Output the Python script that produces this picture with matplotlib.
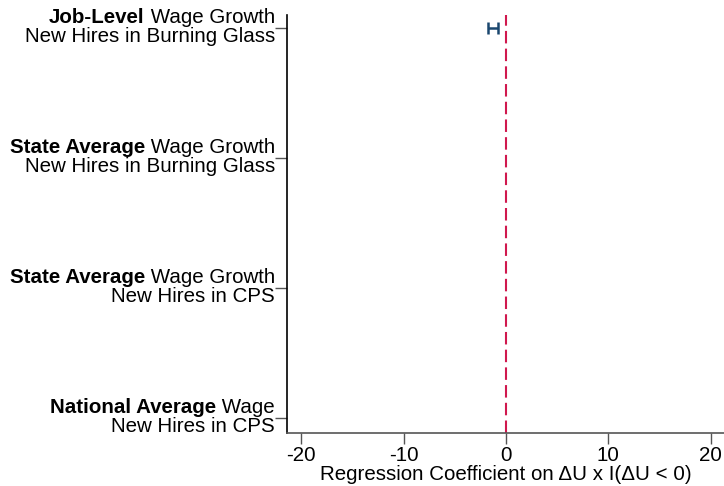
import numpy as np
import matplotlib
matplotlib.use("Agg")
import matplotlib.pyplot as plt
from matplotlib import transforms

plt.rcParams["font.family"] = ["Liberation Sans", "DejaVu Sans"]

# Outcome rows, top to bottom
bold_parts = ["Job-Level", "State Average", "State Average", "National Average"]
rest_parts = [" Wage Growth", " Wage Growth", " Wage Growth", " Wage"]
second_lines = ["New Hires in Burning Glass", "New Hires in Burning Glass",
                "New Hires in CPS", "New Hires in CPS"]
row_pos = [4, 3, 2, 1]

# Point estimates and confidence bounds (rows without an estimate are NaN)
estimates = [-1.3, np.nan, np.nan, np.nan]
ci_low = [-1.8, np.nan, np.nan, np.nan]
ci_high = [-0.8, np.nan, np.nan, np.nan]

x_ticks = [-20, -10, 0, 10, 20]
x_label = "Regression Coefficient on \u0394U x I(\u0394U < 0)"

FS = 14.8
W, H = 724, 486
fig = plt.figure(figsize=(W / 100, H / 100), dpi=100)
ax = fig.add_axes([287 / W, 53 / H, 1 - 287 / W, (433 - 15) / H])

# Zero reference line
ax.axvline(0, color="#D0184E", lw=1.5, ls=(0, (6, 2.5)), zorder=1)

# Confidence intervals
est = np.array(estimates)
lo = np.array(ci_low)
hi = np.array(ci_high)
ax.errorbar(est, row_pos, xerr=[est - lo, hi - est], fmt="none",
            ecolor="#1A476F", elinewidth=1.8, capsize=4, capthick=1.8, zorder=3)

ax.set_xlim(-21.4, 21.3)
ax.set_ylim(0.885, 4.1)
ax.set_xticks(x_ticks)
ax.set_xticklabels([str(t) for t in x_ticks], fontsize=FS)
ax.set_yticks(row_pos)
ax.set_yticklabels([])
ax.tick_params(axis="x", length=8, width=1.0, color="#555555", pad=1)
ax.tick_params(axis="y", length=9, width=1.0, color="#555555", pad=3)
ax.set_xlabel(x_label, fontsize=FS, labelpad=0.5)

for s in ["top", "right"]:
    ax.spines[s].set_visible(False)
ax.spines["left"].set_color("black")
ax.spines["left"].set_linewidth(1.2)
ax.spines["bottom"].set_color("#555555")
ax.spines["bottom"].set_linewidth(1.2)

# Two-line row labels with a bold lead-in on the first line
base = transforms.blended_transform_factory(ax.transAxes, ax.transData)
fig.canvas.draw()
renderer = fig.canvas.get_renderer()
for y, b, r, l2 in zip(row_pos, bold_parts, rest_parts, second_lines):
    t1 = transforms.offset_copy(base, fig=fig, x=-12, y=5, units="dots")
    t2 = transforms.offset_copy(base, fig=fig, x=-12, y=-14, units="dots")
    reg = ax.text(0, y, r, transform=t1, ha="right", va="baseline", fontsize=FS)
    ax.text(0, y, l2, transform=t2, ha="right", va="baseline", fontsize=FS)
    w = reg.get_window_extent(renderer).width
    t3 = transforms.offset_copy(base, fig=fig, x=-12 - w, y=5, units="dots")
    ax.text(0, y, b, transform=t3, ha="right", va="baseline", fontsize=FS,
            fontweight="bold")

fig.savefig("out.png", dpi=100)
